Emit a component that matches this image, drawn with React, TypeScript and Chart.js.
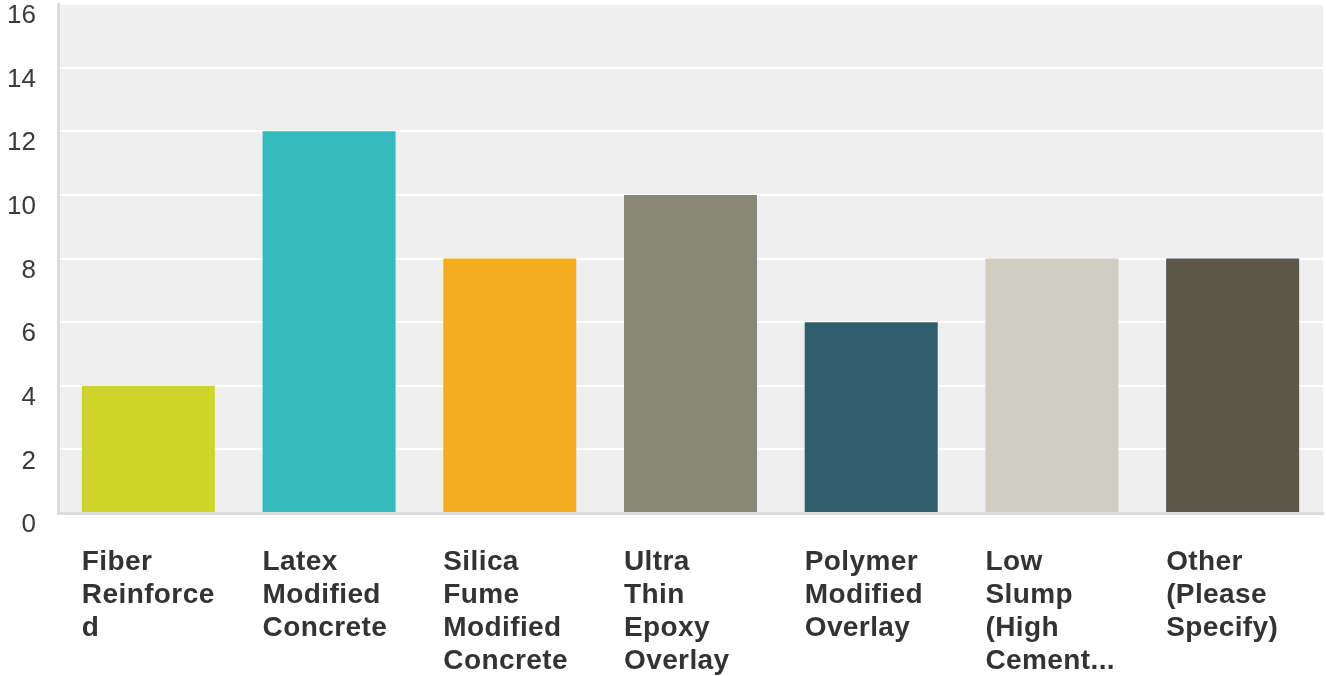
import React, { useEffect, useRef } from "react";
import { Chart, registerables } from "chart.js";

Chart.register(...registerables);

const categories: string[][] = [
  ["Fiber", "Reinforce", "d"],
  ["Latex", "Modified", "Concrete"],
  ["Silica", "Fume", "Modified", "Concrete"],
  ["Ultra", "Thin", "Epoxy", "Overlay"],
  ["Polymer", "Modified", "Overlay"],
  ["Low", "Slump", "(High", "Cement..."],
  ["Other", "(Please", "Specify)"],
];
const values: number[] = [4, 12, 8, 10, 6, 8, 8];
const barColors: string[] = ["#cfd527", "#33bbbe", "#f4ae1f", "#888876", "#2e5f6b", "#cfcdbf", "#5b584a"];
const yTicks: number[] = [0, 2, 4, 6, 8, 10, 12, 14, 16];

const plotBg = {
  id: "plotBg",
  beforeDraw(chart: any) {
    const { ctx, chartArea } = chart;
    ctx.save();
    ctx.fillStyle = "#efefef";
    ctx.fillRect(chartArea.left, chartArea.top - 1, chartArea.right - chartArea.left, chartArea.bottom - chartArea.top + 1);
    ctx.restore();
  },
};

const customLabels = {
  id: "customLabels",
  afterDraw(chart: any) {
    const { ctx } = chart;
    const meta = chart.getDatasetMeta(0);
    const yScale = chart.scales.y;
    ctx.save();
    ctx.fillStyle = "#333333";
    ctx.font = "bold 28px 'Liberation Sans', Arial, sans-serif";
    (ctx as any).letterSpacing = "0.4px";
    ctx.textAlign = "left";
    ctx.textBaseline = "alphabetic";
    meta.data.forEach((bar: any, i: number) => {
      const left = bar.x - bar.width / 2;
      categories[i].forEach((line, j) => {
        ctx.fillText(line, left, 570 + j * 33);
      });
    });
    (ctx as any).letterSpacing = "0px";
    ctx.font = "26px 'Liberation Sans', Arial, sans-serif";
    ctx.textAlign = "right";
    ctx.textBaseline = "middle";
    ctx.fillStyle = "#3a3a3a";
    yTicks.forEach((v) => {
      ctx.fillText(String(v), 36, yScale.getPixelForValue(v) + 12);
    });
    ctx.restore();
  },
};

export default function App() {
  const ref = useRef<HTMLCanvasElement>(null);
  useEffect(() => {
    document.body.style.margin = "0";
    const chart = new Chart(ref.current!, {
      type: "bar",
      data: {
        labels: categories.map((c) => c.join(" ")),
        datasets: [
          {
            data: values,
            backgroundColor: barColors,
            borderWidth: 0,
            barPercentage: 0.736,
            categoryPercentage: 1,
          },
        ],
      },
      options: {
        animation: false,
        responsive: false,
        layout: { padding: { top: 4, right: 3, left: 0, bottom: 0 } },
        plugins: { legend: { display: false }, tooltip: { enabled: false } },
        scales: {
          x: {
            grid: { display: false },
            border: { display: true, color: "#dcdcdc", width: 3 },
            ticks: { display: false },
            afterFit(scale: any) {
              scale.height = 676 - 513;
            },
          },
          y: {
            min: 0,
            max: 16,
            afterBuildTicks(scale: any) {
              scale.ticks = yTicks.map((v) => ({ value: v }));
            },
            grid: { color: "#ffffff", lineWidth: 2, drawTicks: false },
            border: { display: true, color: "#dcdcdc", width: 3 },
            ticks: { display: false },
            afterFit(scale: any) {
              scale.width = 58;
            },
          },
        },
      },
      plugins: [plotBg, customLabels],
    });
    return () => chart.destroy();
  }, []);
  return (
    <div style={{ position: "fixed", left: 0, top: 0, width: 1326, height: 676, background: "#fff" }}>
      <canvas ref={ref} width={1326} height={676} style={{ width: 1326, height: 676 }} />
    </div>
  );
}
